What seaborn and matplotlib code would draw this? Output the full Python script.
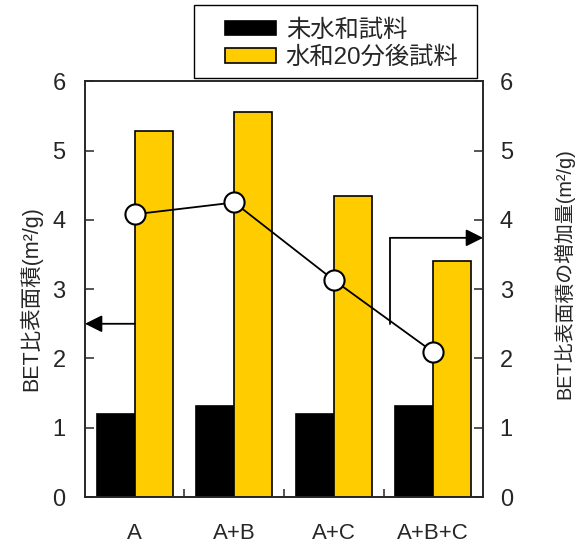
import numpy as np
import pandas as pd
import matplotlib
matplotlib.use('Agg')
import matplotlib.pyplot as plt
from matplotlib.patches import Rectangle
import seaborn as sns

# data
samples = ['A', 'A+B', 'A+C', 'A+B+C']
series_names = ['未水和試料', '水和20分後試料']
unhydrated = [1.20, 1.32, 1.20, 1.32]
hydrated_20min = [5.28, 5.55, 4.35, 3.40]
increase = [4.08, 4.25, 3.13, 2.09]
bar_colors = ['#000000', '#FFCC00']
y_ticks = [0, 1, 2, 3, 4, 5, 6]

df = pd.DataFrame({
    'sample': samples * 2,
    'series': [series_names[0]] * len(samples) + [series_names[1]] * len(samples),
    'bet': unhydrated + hydrated_20min,
})

sns.set_style('ticks')
plt.rcParams['font.family'] = ['Liberation Sans', 'Noto Sans CJK JP']
plt.rcParams['axes.linewidth'] = 1.2

fig = plt.figure(figsize=(5.82, 5.45), dpi=100)
ax = fig.add_axes([0.146, 0.088, 0.684, 0.763])

sns.barplot(data=df, x='sample', y='bet', hue='series', hue_order=series_names,
            palette=dict(zip(series_names, bar_colors)), width=0.76, saturation=1,
            edgecolor='black', linewidth=1.2, ax=ax)
handles, labels = ax.get_legend_handles_labels()
ax.get_legend().remove()

ax.set_xlim(-0.5, len(samples) - 0.5)
ax.set_ylim(0, 6)
ax.set_yticks(y_ticks)
ax.set_xlabel('')
ax.set_ylabel('BET比表面積(m²/g)', fontsize=15.5)
ax.yaxis.set_label_coords(-0.108, 0.478)
ax.tick_params(axis='y', direction='in', length=6.5, width=1.1, labelsize=17, pad=14)
ax.tick_params(axis='x', which='major', length=0, labelsize=16, pad=19)
ax.set_xticks([0.5, 1.5, 2.5], minor=True)
ax.tick_params(axis='x', which='minor', direction='in', length=6, width=1.1)

# increase in surface area on the right axis
ax2 = ax.twinx()
sns.pointplot(x=samples, y=increase, ax=ax2, color='black', markers='o',
              markersize=14.5, markerfacecolor='white', markeredgecolor='black',
              markeredgewidth=1.5, linewidth=1.3)
ax2.set_ylim(0, 6)
ax2.set_yticks(y_ticks)
ax2.set_ylabel('BET比表面積の増加量(m²/g)', fontsize=14.3)
ax2.yaxis.set_label_coords(1.178, 0.537)
ax2.tick_params(axis='y', direction='in', length=6.5, width=1.1, labelsize=17, pad=12)
ax.set_xlim(-0.5, len(samples) - 0.5)

# arrows pointing to the matching axes
arrow = dict(arrowstyle='-|>', mutation_scale=26, color='black', lw=1.3,
             shrinkA=0, shrinkB=0)
ax.annotate('', xy=(-0.5, 2.5), xytext=(0.0, 2.5), arrowprops=arrow)
ax.plot([2.565, 2.565], [2.5, 3.74], color='black', lw=1.3)
ax.annotate('', xy=(3.5, 3.74), xytext=(2.565, 3.74), arrowprops=arrow)

# legend without its own frame, boxed by a wider rectangle like the original
leg = fig.legend(handles, labels, loc='upper left', bbox_to_anchor=(225 / 582, 1 - 19 / 545),
                 fontsize=17.5, frameon=False, handlelength=2.1, handleheight=0.55,
                 borderpad=0, labelspacing=0.2, handletextpad=0.4, borderaxespad=0)
fig.patches.append(Rectangle((194 / 582, 1 - 78 / 545), 283 / 582, 73 / 545,
                             transform=fig.transFigure, fill=False,
                             edgecolor='black', linewidth=1.0))

fig.savefig('out.png', dpi=100)
